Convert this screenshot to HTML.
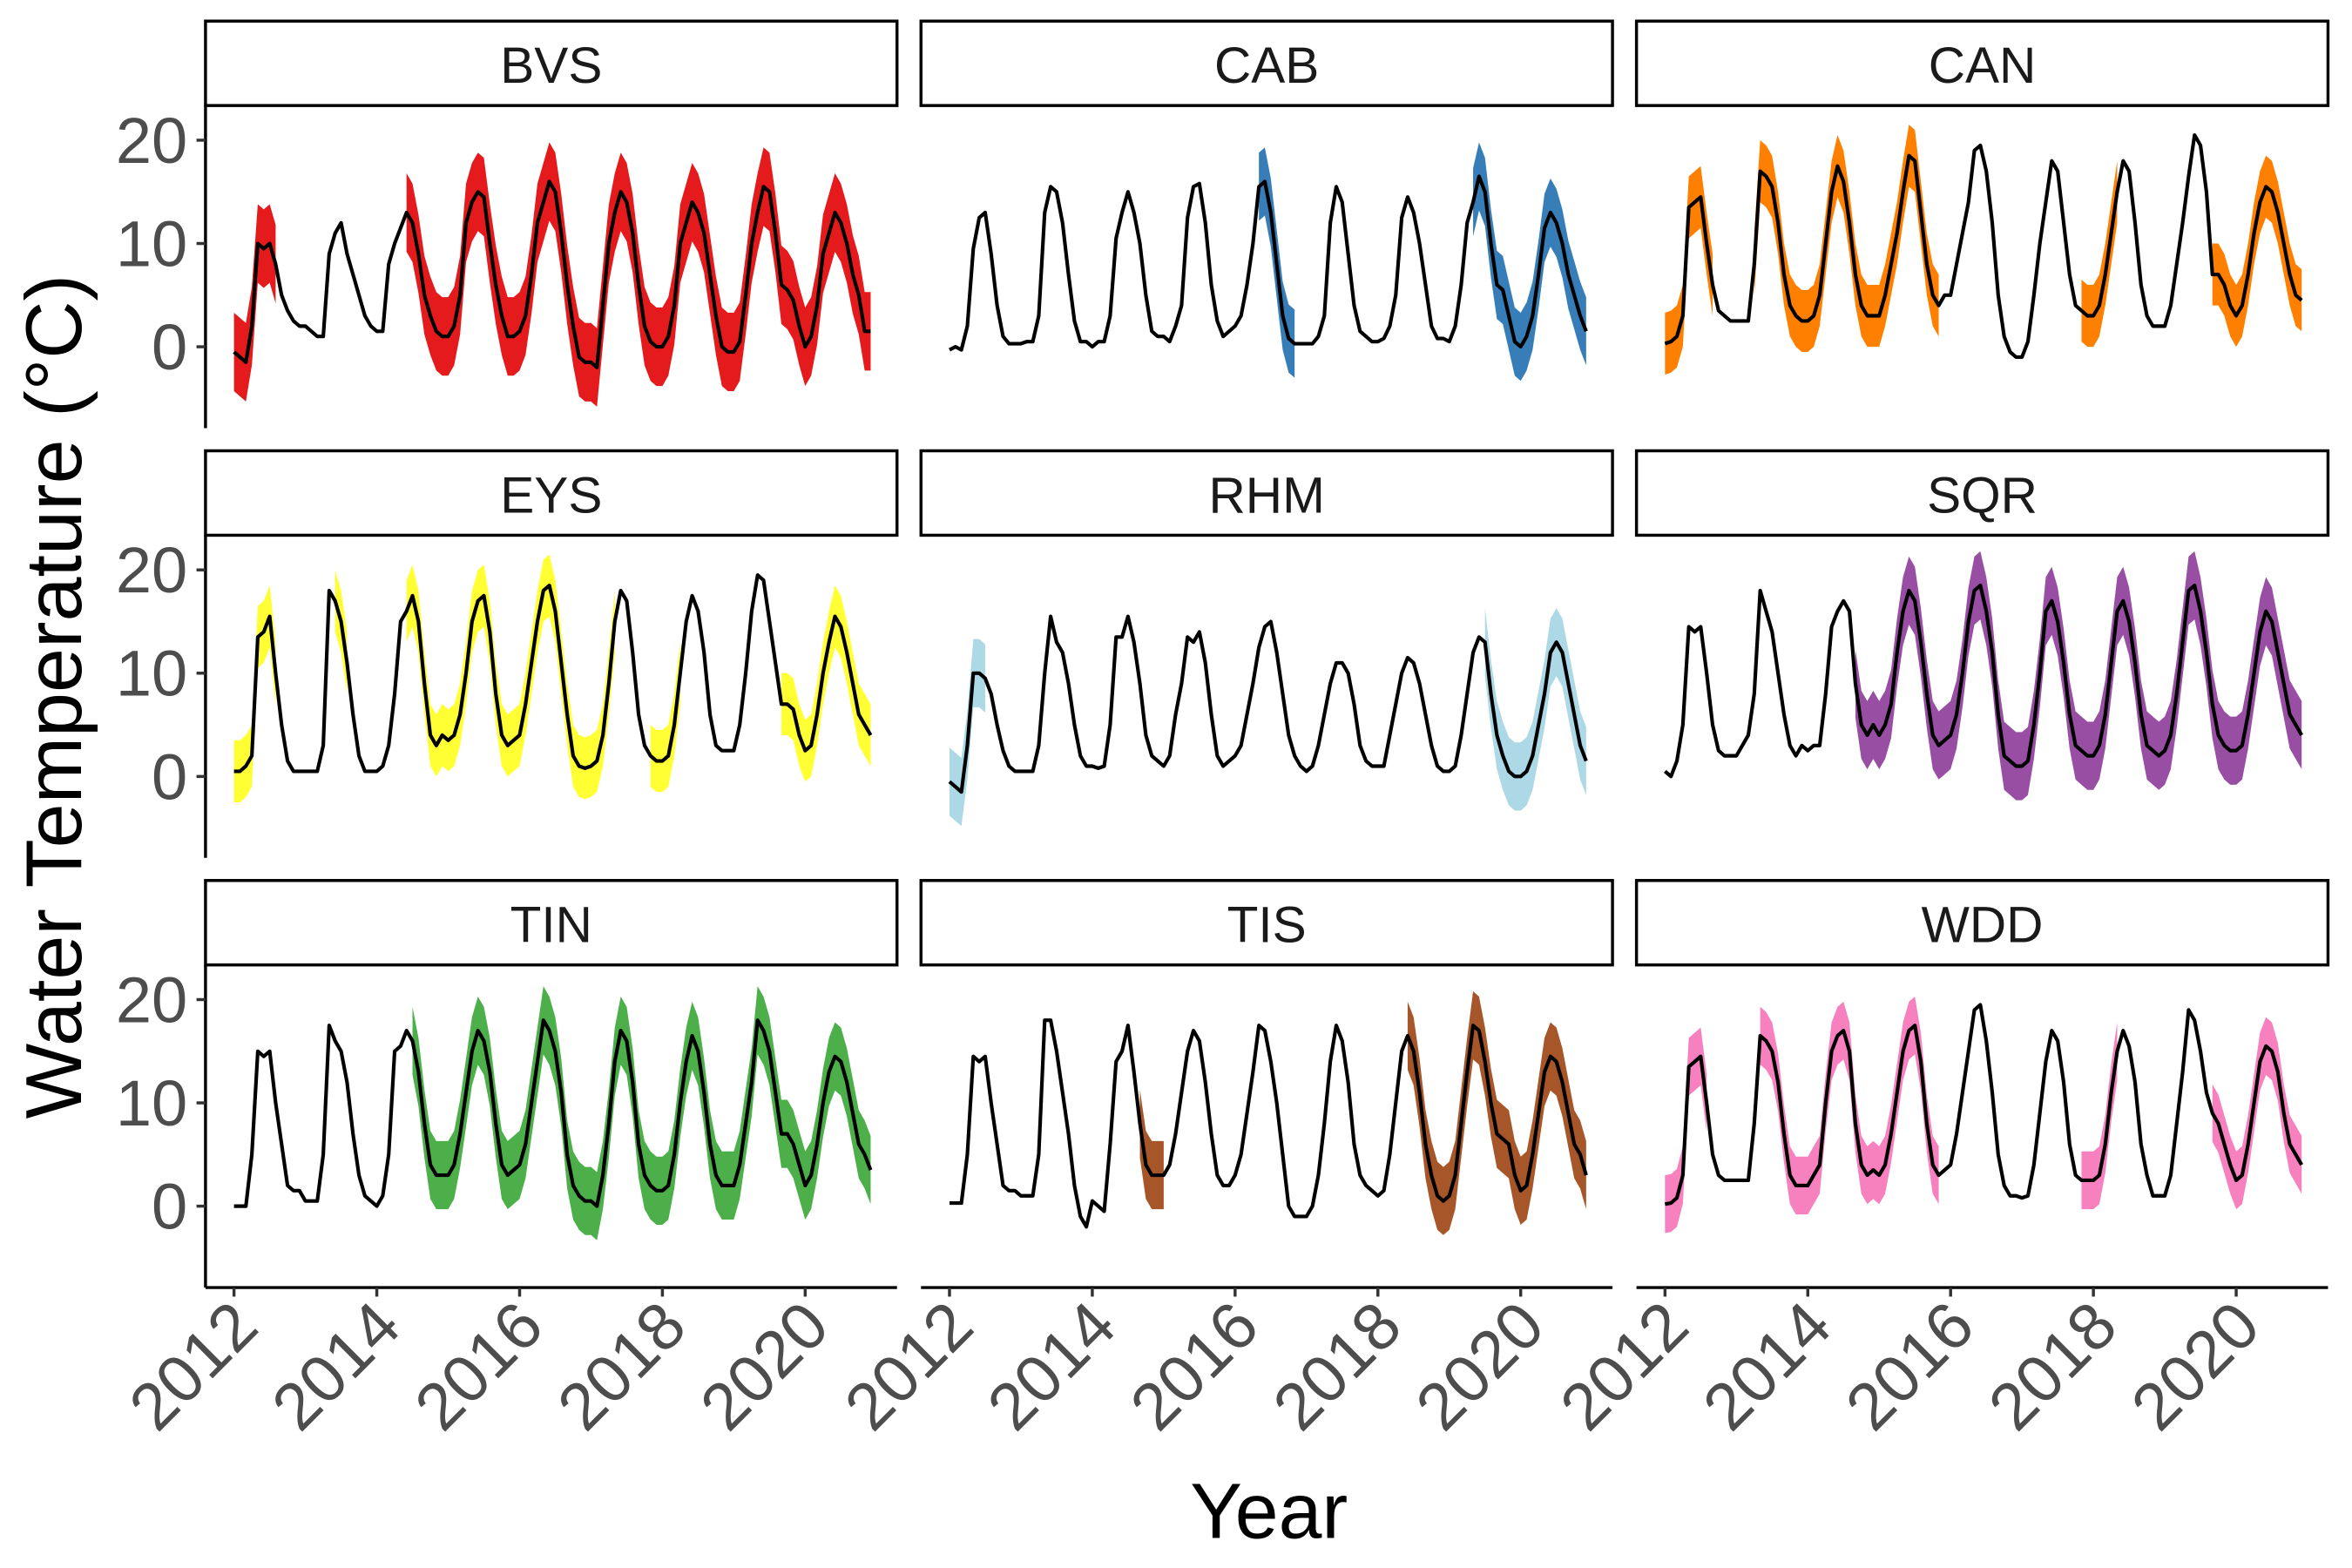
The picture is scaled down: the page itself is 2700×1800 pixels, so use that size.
<!DOCTYPE html>
<html><head><meta charset="utf-8"><style>
html,body{margin:0;padding:0;background:#fff;}
svg{display:block;}
text{font-family:"Liberation Sans",Arial,sans-serif;}
</style></head>
<body>
<svg id="chart" width="2700" height="1800" viewBox="0 0 1568 1040" preserveAspectRatio="none" xmlns="http://www.w3.org/2000/svg">
<rect x="0" y="0" width="1568" height="1040" fill="#fff"/>
<g id="panels"></g>
<text transform="translate(54,462) rotate(-90)" text-anchor="middle" font-size="53" fill="#000">Water Temperature (°C)</text>
<text x="846" y="1020" text-anchor="middle" font-size="52" fill="#000">Year</text>
</svg>
<script>
const sites = ["BVS","CAB","CAN","EYS","RHM","SQR","TIN","TIS","WDD"];
const colors = ["#e41a1c","#377eb8","#ff7f00","#ffff33","#add8e6","#984ea3","#4daf4a","#a65628","#f781bf"];
const yTicks = [0,10,20];
const xTicks = [2012,2014,2016,2018,2020];
const spreads = [3.8,3.3,3.0,3.0,3.3,3.3,3.3,3.3,2.8];
const ribbonSpans = [
 [[2012.0,2012.6],[2014.4,2020.95]],
 [[2016.3,2016.9],[2019.3,2020.95]],
 [[2012.0,2012.7],[2013.25,2015.9],[2017.8,2018.4],[2019.6,2020.95]],
 [[2012.0,2012.6],[2013.35,2013.6],[2014.4,2017.4],[2017.8,2018.3],[2019.6,2020.95]],
 [[2012.0,2012.5],[2019.5,2020.95]],
 [[2014.6,2020.95]],
 [[2014.5,2020.95]],
 [[2014.6,2015.0],[2018.4,2020.95]],
 [[2012.0,2012.6],[2013.3,2015.9],[2017.8,2018.4],[2019.6,2020.95]]
];
const bvs = [-0.5,-1,-1.5,2,10,9.5,10,8,5,3.5,2.5,2, 2,1.5,1,1,9,11,12,9,7,5,3,2, 1.5,1.5,8,10,11.5,13,12,9,5,3,1.5,1, 1,2,5,12,14,15,14.5,10,6,3,1,1, 1.5,3,7,12,14,16,15,11,6,2,-1,-1.5, -1.5,-2,4,10,13,15,14,11,6,2,0.5,0, 0,1,4,10,12,14,13,11,7,3,0,-0.5, -0.5,0.5,5,10,13,15.5,15,11,6,5.5,4.5,2, 0,1,4,9,11,13,12,10,7,5,1.5,1.5];
const cab = [-0.3,0,-0.3,2,9.5,12.5,13,9,4,1,0.3,0.3, 0.3,0.5,0.5,3,13,15.5,15,12,7,2.5,0.5,0.5, 0,0.5,0.5,3,10.5,13,15,13,10,5,1.5,1, 1,0.5,2,4,12.5,15.5,15.8,12,6,2.5,1,1.5, 2,3,6,10,15.5,16,13,8,3,0.8,0.3,0.3, 0.3,0.3,1,3,12,15.5,14,9,4,1.5,1,0.5, 0.5,0.8,2,5,12.5,14.5,13,10,6,2,0.8,0.8, 0.5,2,6,12,14,16.5,15,10,6,5.5,3,0.5, 0,1,3,7,11.5,13,12,10,7,5,3,1.5];
const can = [0.3,0.5,1,3,13.5,14,14.5,10,6,3.5,3,2.5, 2.5,2.5,2.5,8,17,16.5,15.5,12,7,4,3,2.5, 2.5,3,5,10,15,17.5,16,12,7,4,3,3, 3,5,8,11,15,18.5,18,13,8,5,4,5, 5,8,11,14,19,19.5,17,12,5,1,-0.5,-1, -1,0.5,5,10,14,18,17,12,7,4,3.5,3, 3,4,7,11,15,18,17,12,6,3,2,2, 2,4,8,12,16.5,20.5,19.5,15,7,7,6,4, 3,4,7,11,14,15.5,15,13,10,7,5,4.5];
const eys = [0.5,0.5,1,2,13.5,14,15.5,10,5,1.5,0.5,0.5, 0.5,0.5,0.5,3,18,17,15,11,6,2,0.5,0.5, 0.5,1,3,8,15,16,17.5,15,9,4,3,4, 3.5,4,6,10,15,17,17.5,14,8,4,3,3.5, 4,7,11,15,18,18.5,16,11,6,2,1,0.8, 1,1.5,4,9,15,18,17,12,6,3,2,1.5, 1.5,2,5,10,15,17.5,16,12,6,3,2.5,2.5, 2.5,5,10,16,19.5,19,15,11,7,7,6.5,4, 2.5,3,6,10,13,15.5,14.5,12,9,6,5,4];
const rhm = [-0.5,-1,-1.5,3,10,10,9.5,8,5,2.5,1,0.5, 0.5,0.5,0.5,3,10,15.5,13,12,9,5,2,1, 1,0.8,1,5,13.5,13.5,15.5,13,9,4,2,1.5, 1,2,6,9,13.5,13,14,11,6,2,1,1.5, 2,3,6,9,12.5,14.5,15,12,8,4,2,1, 0.5,1,3,6,9,11,11,10,7,3,1.5,1, 1,1,4,7,10,11.5,11,9,6,3,1,0.5, 0.5,1,4,8,12,13.5,13,8,4,2,0.5,0, 0,0.5,2,5,8,12,13,12,9,6,3,1.5];
const sqr = [0.5,0,1.5,5,14.5,14,14.5,10,5,2.5,2,2, 2,3,4,8,18,16,14,10,6,3,2,3, 2.5,3,3,8,14.5,16,17,16,9,5,4,5, 4,5,7,12,16,18,17,13,8,4,3,3.5, 4,6,10,15,18,18.5,16,12,6,2,1.5,1, 1,1.5,5,10,16,17,15,11,6,3,2.5,2, 2,3,6,11,16,17,15,11,6,3,2.5,2, 2.5,4,8,13,18,18.5,16,12,7,4,3,2.5, 2.5,3,6,10,14,16,15,12,9,6,5,4];
const tin = [0,0,0,5,15,14.5,15,10,6,2,1.5,1.5, 0.5,0.5,0.5,5,17.5,16,15,12,7,3,1,0.5, 0,1,5,15,15.5,17,16,13,8,4,3,3, 3,4,7,11,15,17,16,13,8,4,3,3.5, 4,6,10,14,18,17,15,11,5,2,1,0.5, 0.5,0,3,8,14,17,16,12,6,3,2,1.5, 1.5,2,5,10,14,16.5,15,11,6,3,2,2, 2,4,8,12,18,17,15,11,7,7,6,4, 2,3,6,10,13,14.5,14,12,9,6,5,3.5];
const tis = [0.3,0.3,0.3,5,14.5,14,14.5,10,6,2,1.5,1.5, 1,1,1,5,18,18,15,11,7,2,-1,-2, 0.5,0,-0.5,6,14,15,17.5,13,8,4,3,3, 3,4,7,11,15,17,16,12,7,3,2,2, 3,5,9,13,17.5,17,14,10,5,0,-1,-1, -1,0,3,8,14,17.5,16,12,6,3,2,1.5, 1,1.5,5,10,15,16.5,15,11,6,3,1,0.5, 1,3,8,13,17.5,17,14,10,7,6.5,6,3, 1.5,2,5,9,13,14.5,14,12,9,6,5,3];
const wdd = [0.2,0.3,0.8,3,13.5,14,14.5,10,5,3,2.5,2.5, 2.5,2.5,2.5,8,16.5,16,15,12,7,3,2,2, 2,3,4,10,15,16.5,17,15,8,4,3,3.5, 3,4,7,11,15,17,17.5,14,8,4,3,3.5, 4,7,11,15,19,19.5,16,11,5,2,1,1, 0.8,1,4,9,14,17,16,12,6,3,2.5,2.5, 2.5,3,6,11,15,17,15.5,12,6,3,1,1, 1,3,8,13,19,18,15,11,9,8,6,4, 2.5,3,6,10,14,15.5,15,13,9,6,5,4];
const series = [bvs,cab,can,eys,rhm,sqr,tin,tis,wdd];

const NS = "http://www.w3.org/2000/svg";
const root = document.getElementById("panels");
const colLeft = [137,614,1091], rowTop = [14,299,584];
const PW = 461, SH = 56, PH = 214;
function mk(tag, attrs, parent){ const e=document.createElementNS(NS,tag); for(const k in attrs) e.setAttribute(k,attrs[k]); parent.appendChild(e); return e; }

sites.forEach((site, si) => {
  const c = si % 3, r = Math.floor(si / 3);
  const L = colLeft[c], T = rowTop[r], PT = T + SH;
  const xs = yr => L + 19 + (yr - 2012) * 47.6;
  const ys = v => PT + 160 - 6.85 * v;
  const g = mk("g", {}, root);
  
  
  const strip = mk("rect", {x:L, y:T, width:PW, height:SH, fill:"#fff", stroke:"#000", "stroke-width":2}, g);
  
  
  const st = mk("text", {x:L+PW/2, y:T+41, "text-anchor":"middle", "font-size":34, fill:"#1a1a1a"}, g);
  st.textContent = site;
  
  
  const vals = series[si], sp = spreads[si];
  ribbonSpans[si].forEach(span => {
    const idx = [];
    for (let i=0;i<vals.length;i++){ const yr=2012+i/12; if(yr>=span[0]-1e-6 && yr<=span[1]+1e-6) idx.push(i); }
    if (idx.length < 2) return;
    const up = idx.map(i => xs(2012+i/12)+","+ys(vals[i]+sp));
    const lo = idx.map(i => xs(2012+i/12)+","+ys(vals[i]-sp)).reverse();
    const rib = mk("polygon", {points: up.concat(lo).join(" "), fill: colors[si]}, g);
    
    
  });
  const line = mk("polyline", {points: vals.map((v,i)=>xs(2012+i/12)+","+ys(v)).join(" "), fill:"none", stroke:"#000", "stroke-width":2.4, "stroke-linejoin":"round"}, g);
  
  
  if (c === 0) {
    const ax = mk("line", {x1:L, x2:L, y1:PT, y2:PT+PH, stroke:"#000", "stroke-width":2}, g);
    
    
    yTicks.forEach(t => {
      mk("line", {x1:L-6, x2:L, y1:ys(t), y2:ys(t), stroke:"#333", "stroke-width":2}, g);
      const tl = mk("text", {x:L-12, y:ys(t)+15, "text-anchor":"end", "font-size":43, fill:"#4d4d4d"}, g);
      tl.textContent = t;
      
      
    });
  }
  if (r === 2) {
    const bx = mk("line", {x1:L, x2:L+PW, y1:PT+PH, y2:PT+PH, stroke:"#000", "stroke-width":2}, g);
    
    
    xTicks.forEach(t => {
      mk("line", {x1:xs(t), x2:xs(t), y1:PT+PH, y2:PT+PH+6, stroke:"#333", "stroke-width":2}, g);
      const tl = mk("text", {transform:"translate("+(xs(t)+18)+","+(PT+PH+28)+") rotate(-45)", "text-anchor":"end", "font-size":44, fill:"#4d4d4d"}, g);
      tl.textContent = t;
      
      
    });
  }
});
</script>
</body></html>
